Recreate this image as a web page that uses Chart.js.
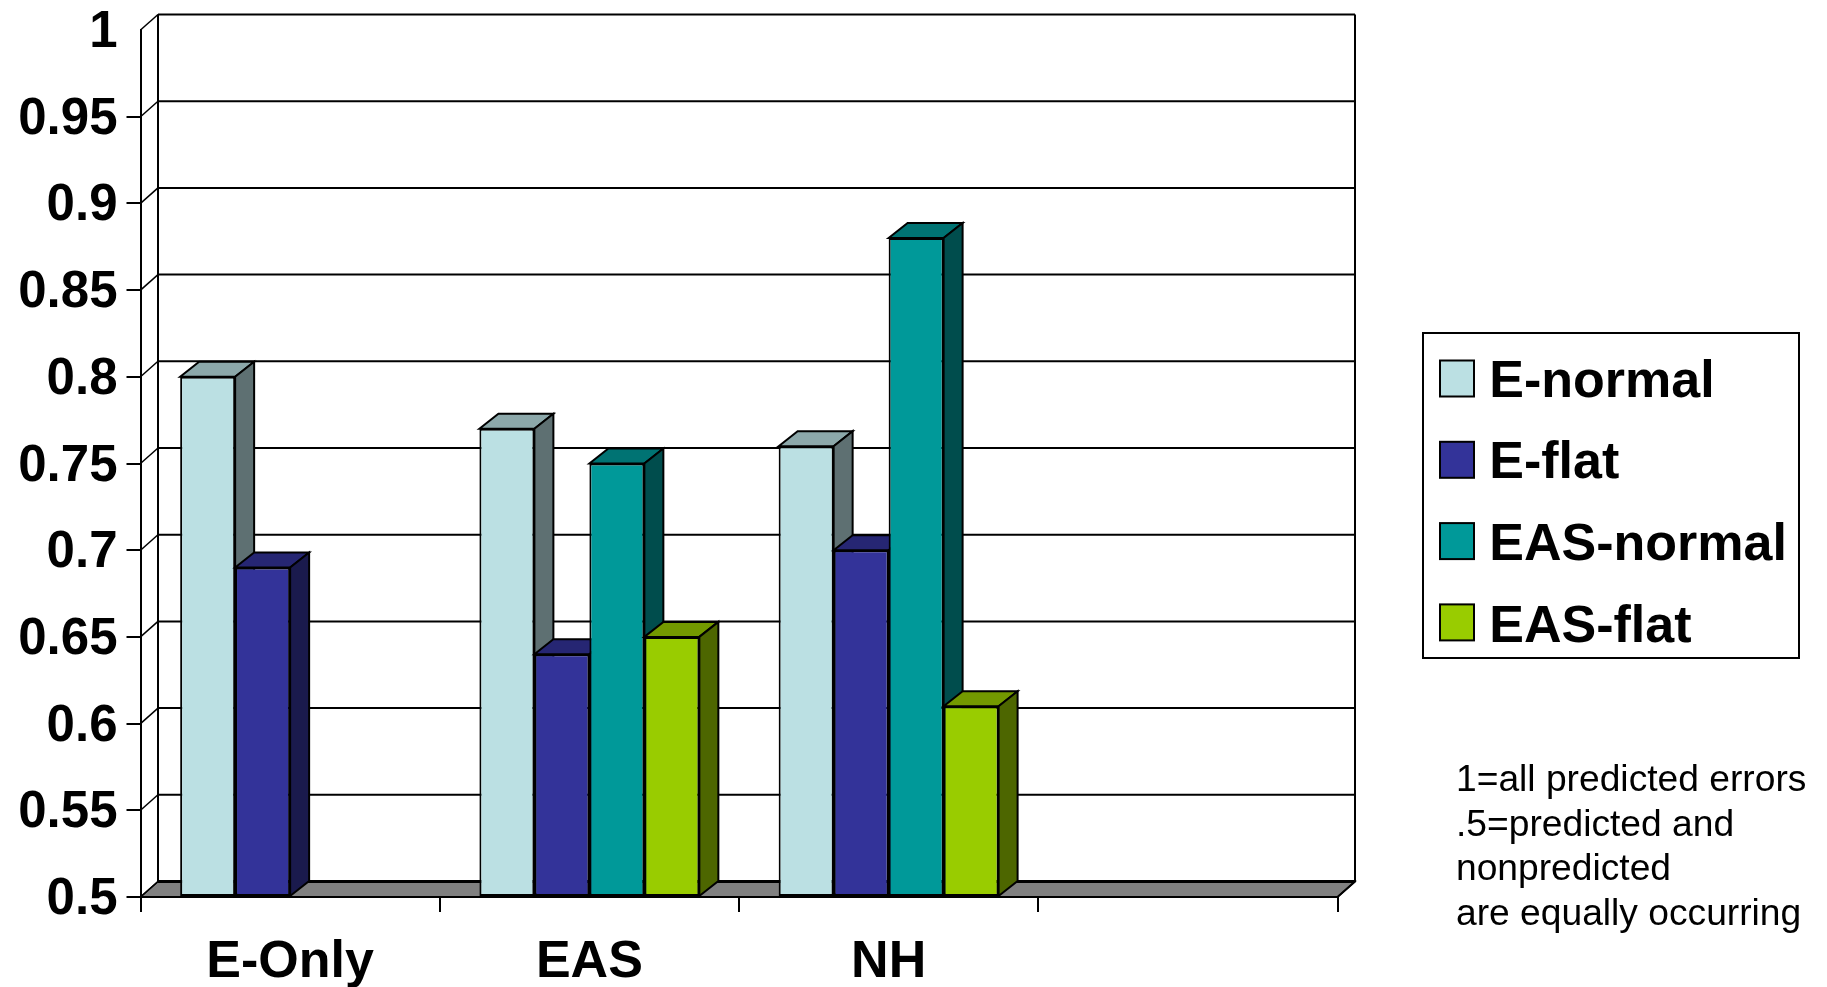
<!DOCTYPE html>
<html>
<head>
<meta charset="utf-8">
<title>Chart</title>
<style>
  html, body { margin: 0; padding: 0; background: #fff; overflow: hidden; }
  canvas { display: block; }
</style>
<script src="https://cdn.jsdelivr.net/npm/chart.js@4"></script>
</head>
<body>
<canvas id="myBars" width="1827" height="987"></canvas>
<script>
const categories = ['E-Only', 'EAS', 'NH', ''];
const eNormal = [0.80, 0.77, 0.76, null];
const eFlat = [0.69, 0.64, 0.70, null];
const easNormal = [null, 0.75, 0.88, null];
const easFlat = [null, 0.65, 0.61, null];
const yTickLabels = ['0.5', '0.55', '0.6', '0.65', '0.7', '0.75', '0.8', '0.85', '0.9', '0.95', '1'];
const footnote = ['1=all predicted errors', '.5=predicted and', 'nonpredicted', 'are equally occurring'];

const FONT = '"Liberation Sans", Arial, sans-serif';

// front, top and side colour of each series
const faces = [
    ['#BBE0E3', '#8CA8AA', '#5E7072'],
    ['#333399', '#262673', '#1A1A4D'],
    ['#009999', '#007373', '#004D4D'],
    ['#99CC00', '#739900', '#4D6600']
];

function poly(ctx, pts, fill) {
    ctx.beginPath();
    pts.forEach((p, i) => i ? ctx.lineTo(p[0], p[1]) : ctx.moveTo(p[0], p[1]));
    ctx.closePath();
    if (fill) {
        ctx.fillStyle = fill;
        ctx.fill();
    }
    ctx.stroke();
}

// floor and back wall behind the bars
const walls = {
    id: 'walls',
    beforeDraw(chart) {
        const ctx = chart.ctx;
        const { left, right, bottom } = chart.chartArea;
        const y = chart.scales.y;
        const dx = 17.5, dy = 15.5;
        ctx.save();
        ctx.strokeStyle = '#000';
        ctx.lineWidth = 1.5;
        poly(ctx, [[left, bottom], [left + dx, bottom - dy], [right + dx, bottom - dy], [right, bottom]], '#808080');
        y.ticks.forEach(t => {
            const py = y.getPixelForValue(t.value);
            ctx.lineWidth = t.value === 0.5 ? 3 : 2;
            ctx.beginPath();
            ctx.moveTo(left + dx, py - dy);
            ctx.lineTo(right + dx, py - dy);
            ctx.stroke();
            ctx.lineWidth = 1.5;
            ctx.beginPath();
            ctx.moveTo(left, py);
            ctx.lineTo(left + dx, py - dy);
            ctx.stroke();
        });
        ctx.lineWidth = 2;
        ctx.beginPath();
        ctx.moveTo(left + dx, y.top - dy);
        ctx.lineTo(left + dx, bottom - dy);
        ctx.moveTo(right + dx, y.top - dy);
        ctx.lineTo(right + dx, bottom - dy);
        ctx.lineTo(right, bottom);
        ctx.stroke();
        ctx.restore();
    }
};

// bars are drawn left to right, each with its depth faces behind it
const bars3d = {
    id: 'bars3d',
    beforeDatasetsDraw(chart) {
        const ctx = chart.ctx;
        const dx = 19, dy = 15;
        chart.data.datasets.forEach((ds, i) => {
            const meta = chart.getDatasetMeta(i);
            ctx.save();
            ctx.strokeStyle = '#000';
            ctx.lineWidth = 2;
            ctx.lineJoin = 'miter';
            meta.data.forEach((bar, j) => {
                if (ds.data[j] === null) return;
                const l = bar.x - bar.width / 2, r = bar.x + bar.width / 2;
                poly(ctx, [[l, bar.y], [l + dx, bar.y - dy], [r + dx, bar.y - dy], [r, bar.y]], faces[i][1]);
                poly(ctx, [[r, bar.y], [r + dx, bar.y - dy], [r + dx, bar.base - dy], [r, bar.base]], faces[i][2]);
            });
            ctx.restore();
            meta.controller.draw();
        });
        return false;
    }
};

// legend frame, swatches and the note on the right
const sideNotes = {
    id: 'sideNotes',
    afterLayout(chart) {
        const legend = chart.legend;
        legend.left = 1411;
        legend.right = 1815;
        legend.top = 326.9;
        legend.bottom = 720;
    },
    afterDraw(chart) {
        const ctx = chart.ctx;
        ctx.save();
        ctx.strokeStyle = '#000';
        ctx.lineWidth = 2;
        ctx.strokeRect(1423, 333, 376, 325);
        chart.data.datasets.forEach((ds, i) => {
            ctx.fillStyle = ds.backgroundColor;
            ctx.fillRect(1440, 360.5 + i * 81.3, 34, 36);
            ctx.strokeRect(1440, 360.5 + i * 81.3, 34, 36);
        });
        ctx.fillStyle = '#000';
        ctx.font = '37.2px ' + FONT;
        ctx.textBaseline = 'alphabetic';
        footnote.forEach((line, i) => ctx.fillText(line, 1456, 790.7 + i * 44.8));
        ctx.restore();
    }
};

new Chart(document.getElementById('myBars').getContext('2d'), {
    type: 'bar',
    data: {
        labels: categories,
        datasets: [
            { label: 'E-normal', data: eNormal, backgroundColor: faces[0][0] },
            { label: 'E-flat', data: eFlat, backgroundColor: faces[1][0] },
            { label: 'EAS-normal', data: easNormal, backgroundColor: faces[2][0] },
            { label: 'EAS-flat', data: easFlat, backgroundColor: faces[3][0] }
        ]
    },
    plugins: [walls, bars3d, sideNotes],
    options: {
        responsive: false,
        animation: false,
        layout: { padding: { left: 0, top: 30, right: 489.5, bottom: 0 } },
        datasets: {
            bar: {
                base: 0.5,
                barPercentage: 1,
                categoryPercentage: 0.735,
                borderColor: '#000',
                borderWidth: 2,
                borderSkipped: false
            }
        },
        scales: {
            x: {
                afterFit(scale) { scale.height = 90; },
                border: { color: '#000', width: 2 },
                grid: { drawOnChartArea: false, color: '#000', lineWidth: 2, tickLength: 15 },
                ticks: {
                    color: '#000',
                    padding: 19,
                    maxRotation: 0,
                    autoSkip: false,
                    font: { family: FONT, size: 52, weight: 'bold' }
                }
            },
            y: {
                min: 0.5,
                max: 1,
                afterFit(scale) {
                    scale.width = 140.5;
                    scale.paddingTop = 0;
                    scale.paddingBottom = 0;
                },
                border: { color: '#000', width: 2 },
                grid: {
                    drawOnChartArea: false,
                    lineWidth: 2,
                    tickLength: 14,
                    tickColor: ctx => ctx.tick && ctx.tick.value === 1 ? 'rgba(0,0,0,0)' : '#000'
                },
                ticks: {
                    stepSize: 0.05,
                    color: '#000',
                    padding: 9,
                    labelOffset: 3,
                    autoSkip: false,
                    font: { family: FONT, size: 51, weight: 'bold' },
                    callback: (value, index) => yTickLabels[index]
                }
            }
        },
        plugins: {
            tooltip: { enabled: false },
            title: { display: false },
            legend: {
                position: 'chartArea',
                align: 'start',
                labels: {
                    color: '#000',
                    boxWidth: 22.7,
                    boxHeight: 20,
                    padding: 29.6,
                    font: { family: FONT, size: 52, weight: 'bold', lineHeight: 1.2 }
                }
            }
        }
    }
});
</script>
</body>
</html>
